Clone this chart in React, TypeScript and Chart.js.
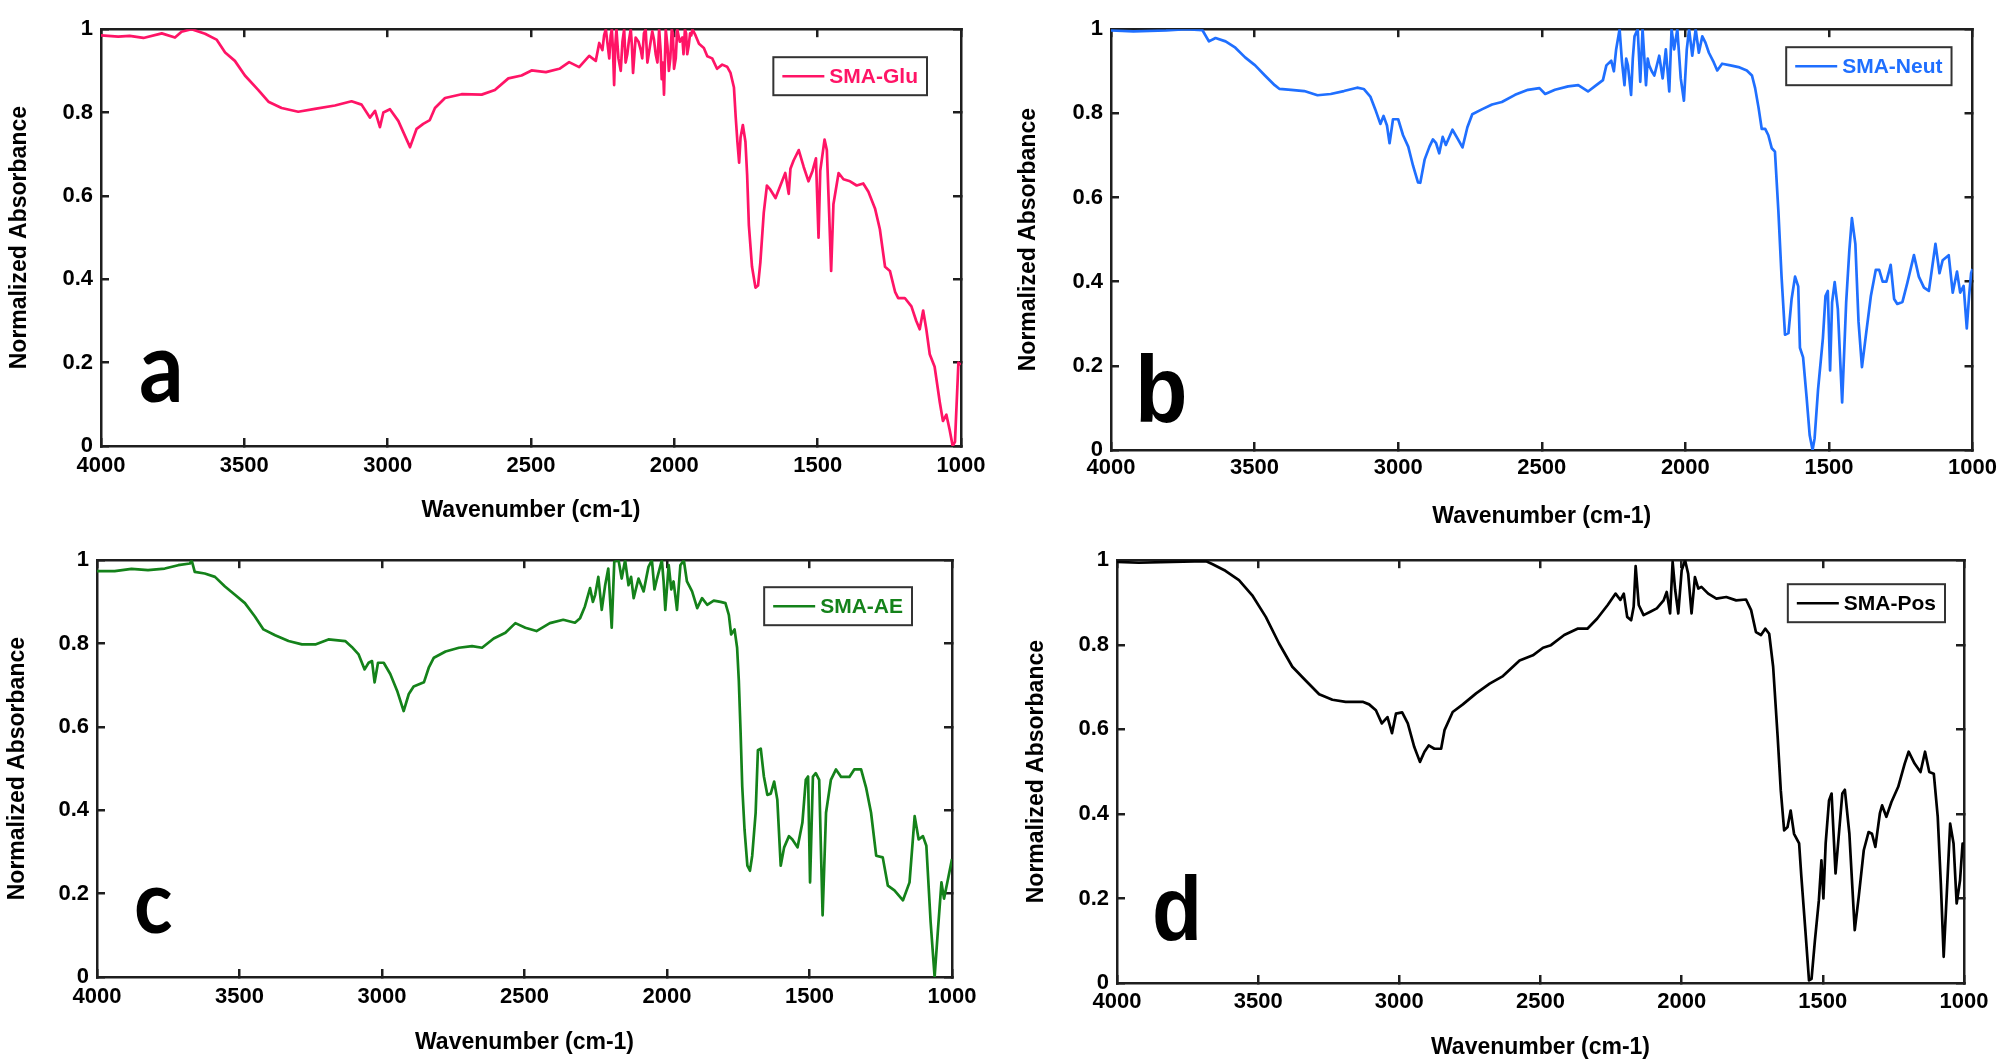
import React, { useEffect, useRef } from "react";
import { Chart, registerables } from "chart.js";

Chart.register(...registerables);

// ---------- data ----------
const X_TICKS = [4000, 3500, 3000, 2500, 2000, 1500, 1000];
const Y_TICKS = [0, 0.2, 0.4, 0.6, 0.8, 1];
const X_TITLE = "Wavenumber (cm-1)";
const Y_TITLE = "Normalized Absorbance";
const SERIES_NAMES = ["SMA-Glu", "SMA-Neut", "SMA-AE", "SMA-Pos"];
const PANEL_LETTERS = ["a", "b", "c", "d"];

// [wavenumber (cm-1), normalized absorbance]
const SMA_GLU: [number, number][] = [
  [4000, 0.985], [3940, 0.982], [3900, 0.984], [3852, 0.979], [3788, 0.99], [3742, 0.98], [3719, 0.994], [3684, 1.0],
  [3637, 0.989], [3597, 0.975], [3567, 0.944], [3533, 0.924], [3498, 0.889], [3451, 0.854], [3416, 0.826], [3370, 0.811],
  [3312, 0.802], [3254, 0.809], [3184, 0.817], [3126, 0.827], [3091, 0.819], [3062, 0.788], [3044, 0.804], [3027, 0.765],
  [3015, 0.8], [2992, 0.808], [2963, 0.78], [2922, 0.717], [2899, 0.761], [2876, 0.773], [2853, 0.782], [2835, 0.811],
  [2800, 0.835], [2742, 0.844], [2672, 0.843], [2626, 0.854], [2579, 0.882], [2533, 0.889], [2498, 0.901], [2448, 0.897],
  [2401, 0.905], [2367, 0.921], [2332, 0.909], [2297, 0.936], [2274, 0.924], [2262, 0.967], [2251, 0.95], [2245, 0.985],
  [2239, 1.0], [2233, 0.965], [2227, 0.93], [2222, 0.985], [2218, 1.0], [2214, 0.95], [2210, 0.866], [2206, 0.96],
  [2202, 1.0], [2195, 0.93], [2187, 0.9], [2181, 0.97], [2175, 1.0], [2170, 0.92], [2164, 0.94], [2158, 0.975],
  [2152, 1.0], [2148, 0.96], [2144, 0.895], [2135, 0.98], [2125, 0.97], [2117, 0.95], [2112, 0.93], [2106, 0.99],
  [2100, 1.0], [2094, 0.92], [2086, 0.955], [2077, 0.995], [2071, 0.975], [2065, 0.94], [2059, 0.92], [2053, 1.0],
  [2048, 0.95], [2044, 0.88], [2040, 0.92], [2036, 0.843], [2030, 1.0], [2024, 0.96], [2019, 0.9], [2014, 0.93],
  [2009, 1.0], [2005, 0.99], [2001, 0.905], [1995, 0.93], [1990, 1.0], [1981, 0.97], [1972, 0.98], [1968, 0.94],
  [1963, 1.0], [1959, 0.99], [1955, 0.94], [1950, 0.96], [1945, 0.99], [1941, 0.985], [1937, 1.0], [1926, 0.985],
  [1914, 0.965], [1897, 0.955], [1885, 0.935],
  [1868, 0.93], [1851, 0.905], [1833, 0.915], [1816, 0.91], [1804, 0.895], [1792, 0.86], [1786, 0.79], [1780, 0.73],
  [1774, 0.68], [1769, 0.74], [1761, 0.77], [1752, 0.73], [1746, 0.65], [1740, 0.53], [1729, 0.43], [1717, 0.38],
  [1708, 0.385], [1700, 0.44], [1688, 0.56], [1677, 0.625], [1665, 0.615], [1647, 0.595], [1630, 0.625], [1613, 0.655],
  [1601, 0.605], [1595, 0.665], [1584, 0.685], [1566, 0.71], [1549, 0.67], [1532, 0.635], [1518, 0.66], [1506, 0.69],
  [1497, 0.5], [1491, 0.66], [1476, 0.735], [1468, 0.71], [1460, 0.56], [1453, 0.42], [1445, 0.58], [1427, 0.655],
  [1410, 0.64], [1387, 0.635], [1364, 0.625], [1341, 0.63], [1323, 0.61], [1300, 0.57], [1283, 0.52], [1265, 0.43],
  [1248, 0.42], [1230, 0.37], [1219, 0.355], [1196, 0.355], [1173, 0.335], [1156, 0.3], [1144, 0.28], [1132, 0.325],
  [1121, 0.28], [1109, 0.22], [1092, 0.19], [1074, 0.105], [1063, 0.06], [1051, 0.075], [1040, 0.04], [1029, 0.0],
  [1021, 0.01], [1009, 0.2], [1001, 0.195],
];

const SMA_NEUT: [number, number][] = [
  [4000, 0.997], [3922, 0.995], [3808, 0.997], [3739, 1.0], [3682, 0.998], [3659, 0.971], [3636, 0.979], [3601, 0.971],
  [3567, 0.956], [3533, 0.933], [3498, 0.914], [3464, 0.89], [3430, 0.867], [3413, 0.858], [3373, 0.856], [3327, 0.853],
  [3281, 0.843], [3235, 0.846], [3189, 0.853], [3143, 0.861], [3120, 0.858], [3097, 0.84], [3080, 0.81], [3062, 0.775],
  [3051, 0.794], [3039, 0.771], [3030, 0.729], [3018, 0.786], [3000, 0.786], [2983, 0.748], [2965, 0.721], [2948, 0.675],
  [2931, 0.636], [2923, 0.635], [2908, 0.69], [2891, 0.721], [2879, 0.738], [2868, 0.729], [2857, 0.705], [2845, 0.744],
  [2834, 0.725], [2811, 0.761], [2793, 0.74], [2776, 0.719], [2759, 0.767], [2742, 0.798], [2707, 0.81], [2673, 0.821],
  [2639, 0.827], [2593, 0.844], [2548, 0.856], [2508, 0.86], [2488, 0.846], [2454, 0.856], [2408, 0.864], [2373, 0.867],
  [2339, 0.852], [2310, 0.867], [2287, 0.879], [2275, 0.914], [2258, 0.925], [2249, 0.9], [2241, 0.952], [2229, 1.0],
  [2221, 0.925], [2212, 0.867], [2206, 0.93], [2200, 0.914], [2189, 0.844], [2183, 0.93], [2177, 0.983], [2166, 1.0],
  [2157, 0.875], [2149, 1.0], [2137, 0.867], [2131, 0.93], [2126, 0.914], [2117, 0.9], [2108, 0.89], [2091, 0.937],
  [2079, 0.883], [2068, 0.952], [2056, 0.852], [2048, 1.0], [2039, 0.952], [2028, 1.0], [2016, 0.883], [2005, 0.83],
  [1995, 0.952], [1987, 1.0], [1976, 0.937], [1964, 1.0], [1953, 0.944],
  [1941, 0.983], [1930, 0.968], [1918, 0.944], [1901, 0.921], [1889, 0.902], [1872, 0.918], [1843, 0.914], [1815, 0.91],
  [1786, 0.902], [1768, 0.89], [1757, 0.86], [1745, 0.813], [1734, 0.763], [1722, 0.763], [1711, 0.748], [1699, 0.717],
  [1688, 0.709], [1676, 0.567], [1665, 0.412], [1653, 0.274], [1641, 0.278], [1630, 0.359], [1618, 0.412], [1607, 0.389],
  [1601, 0.243], [1590, 0.22], [1578, 0.127], [1567, 0.035], [1557, 0.0], [1550, 0.027], [1538, 0.143], [1521, 0.266],
  [1512, 0.366], [1504, 0.378], [1496, 0.189], [1489, 0.351], [1480, 0.399], [1469, 0.335], [1454, 0.113], [1440, 0.351],
  [1429, 0.474], [1420, 0.551], [1408, 0.49], [1397, 0.305], [1385, 0.197], [1371, 0.274], [1354, 0.366], [1337, 0.428],
  [1325, 0.428], [1313, 0.4], [1300, 0.4], [1285, 0.44], [1273, 0.359], [1262, 0.347], [1244, 0.352], [1227, 0.397],
  [1204, 0.463], [1187, 0.412], [1169, 0.386], [1152, 0.378], [1129, 0.49], [1115, 0.42], [1104, 0.451], [1083, 0.463],
  [1069, 0.374], [1054, 0.424], [1043, 0.374], [1031, 0.39], [1020, 0.289], [1012, 0.366], [1005, 0.42], [1000, 0.43],
];

const SMA_AE: [number, number][] = [
  [4000, 0.974], [3938, 0.974], [3879, 0.979], [3821, 0.976], [3762, 0.98], [3715, 0.988], [3674, 0.992], [3668, 1.0],
  [3657, 0.972], [3622, 0.968], [3586, 0.96], [3551, 0.937], [3516, 0.917], [3481, 0.897], [3446, 0.865], [3416, 0.834],
  [3375, 0.82], [3328, 0.806], [3281, 0.798], [3234, 0.798], [3188, 0.81], [3129, 0.806], [3106, 0.792], [3082, 0.774],
  [3061, 0.738], [3047, 0.754], [3035, 0.758], [3026, 0.707], [3014, 0.754], [2994, 0.754], [2971, 0.727], [2947, 0.687],
  [2924, 0.638], [2906, 0.679], [2889, 0.697], [2853, 0.707], [2836, 0.742], [2818, 0.766], [2777, 0.781], [2730, 0.79],
  [2684, 0.794], [2649, 0.79], [2608, 0.812], [2567, 0.826], [2532, 0.849], [2497, 0.838], [2458, 0.83], [2411, 0.849],
  [2364, 0.857], [2323, 0.85], [2305, 0.861], [2288, 0.889], [2270, 0.933], [2260, 0.9], [2252, 0.917], [2241, 0.96],
  [2229, 0.881], [2217, 0.94], [2206, 0.98], [2194, 0.838], [2185, 0.996], [2170, 1.0], [2159, 0.956], [2147, 1.0],
  [2135, 0.94], [2126, 0.96], [2117, 0.909], [2100, 0.956], [2082, 0.925], [2072, 0.96], [2065, 0.984], [2053, 1.0],
  [2044, 0.93], [2035, 0.956], [2018, 1.0], [2012, 0.95], [2006, 0.881], [1994, 0.988], [1985, 0.93], [1977, 0.949],
  [1965, 0.881], [1953, 0.988], [1941, 1.0], [1930, 0.949], [1912, 0.925], [1894, 0.885],
  [1877, 0.909], [1859, 0.893], [1836, 0.903], [1812, 0.9], [1795, 0.897], [1783, 0.869], [1775, 0.822], [1763, 0.834],
  [1754, 0.79], [1748, 0.711], [1742, 0.592], [1736, 0.457], [1728, 0.354], [1718, 0.267], [1709, 0.255], [1701, 0.291],
  [1689, 0.394], [1681, 0.544], [1671, 0.548], [1660, 0.481], [1648, 0.437], [1636, 0.44], [1624, 0.469], [1613, 0.426],
  [1601, 0.267], [1589, 0.311], [1572, 0.338], [1560, 0.33], [1542, 0.311], [1525, 0.37], [1513, 0.473], [1505, 0.481],
  [1498, 0.227], [1488, 0.481], [1478, 0.489], [1466, 0.473], [1454, 0.148], [1442, 0.394], [1425, 0.473], [1407, 0.498],
  [1389, 0.48], [1360, 0.48], [1343, 0.498], [1319, 0.498], [1301, 0.453], [1284, 0.394], [1266, 0.291], [1243, 0.287],
  [1225, 0.219], [1202, 0.208], [1172, 0.184], [1149, 0.227], [1131, 0.386], [1117, 0.33], [1102, 0.338], [1090, 0.315],
  [1075, 0.132], [1061, 0.0], [1049, 0.116], [1037, 0.227], [1028, 0.188], [1014, 0.235], [1000, 0.283],
];

const SMA_POS: [number, number][] = [
  [4000, 0.996], [3923, 0.994], [3805, 0.996], [3686, 0.998], [3663, 0.991], [3616, 0.975], [3568, 0.953], [3521, 0.917],
  [3473, 0.866], [3426, 0.803], [3379, 0.748], [3331, 0.715], [3284, 0.683], [3237, 0.67], [3190, 0.665], [3130, 0.665],
  [3107, 0.659], [3083, 0.645], [3062, 0.614], [3042, 0.629], [3026, 0.591], [3012, 0.637], [2990, 0.64], [2970, 0.614],
  [2947, 0.558], [2927, 0.523], [2911, 0.547], [2896, 0.562], [2876, 0.554], [2852, 0.554], [2840, 0.598], [2811, 0.641],
  [2775, 0.659], [2728, 0.685], [2680, 0.708], [2633, 0.726], [2574, 0.763], [2527, 0.775], [2491, 0.793], [2463, 0.799],
  [2416, 0.823], [2369, 0.838], [2334, 0.838], [2299, 0.862], [2262, 0.894], [2234, 0.921], [2217, 0.906], [2205, 0.921],
  [2193, 0.866], [2179, 0.858], [2170, 0.89], [2163, 0.986], [2152, 0.894], [2135, 0.87], [2111, 0.878], [2088, 0.886],
  [2064, 0.905], [2053, 0.925], [2041, 0.874], [2032, 0.996], [2023, 0.93], [2012, 0.874], [2000, 0.976], [1988, 1.0],
  [1977, 0.968], [1965, 0.874], [1953, 0.96], [1941, 0.933], [1930, 0.937], [1906, 0.921], [1877, 0.909], [1842, 0.913],
  [1807, 0.905], [1772, 0.907], [1754, 0.882], [1737, 0.83], [1719, 0.823], [1704, 0.838], [1690, 0.826], [1676, 0.748],
  [1660, 0.582], [1649, 0.456], [1637, 0.361], [1625, 0.369], [1614, 0.408], [1602, 0.353], [1584, 0.33], [1576, 0.251],
  [1561, 0.117], [1549, 0.006], [1540, 0.01], [1528, 0.101], [1514, 0.196], [1505, 0.29], [1498, 0.2], [1490, 0.33],
  [1478, 0.432], [1469, 0.448], [1455, 0.259], [1443, 0.353], [1431, 0.448], [1422, 0.457], [1406, 0.353], [1387, 0.125],
  [1373, 0.203], [1355, 0.314], [1338, 0.357], [1326, 0.353], [1314, 0.322], [1298, 0.401], [1290, 0.42], [1275, 0.393],
  [1257, 0.428], [1233, 0.464], [1210, 0.519], [1196, 0.547], [1175, 0.519], [1154, 0.499], [1138, 0.547], [1123, 0.499],
  [1107, 0.495], [1093, 0.393], [1082, 0.235], [1072, 0.062], [1061, 0.211], [1049, 0.377], [1037, 0.33], [1026, 0.188],
  [1014, 0.243], [1005, 0.33], [1000, 0.33],
];

// ---------- styling / layout ----------
const FONT = "'Liberation Sans', Arial, Helvetica, sans-serif";
const FRAME = "#1e1e1e";

type Panel = {
  name: string;
  letter: string;
  data: [number, number][];
  color: string;
  box: { left: number; top: number; width: number; height: number };
  area: { left: number; top: number; right: number; bottom: number };
  xTickPad: number;
  xTitlePad: number;
  yTitlePad: number;
  legendRight: number;
  legendTop: number;
  letterFont: string;
  letterSize: number;
  letterX: number;
  letterBase: number;
};

const PANELS: Panel[] = [
  {
    name: SERIES_NAMES[0], letter: PANEL_LETTERS[0], data: SMA_GLU, color: "#ff1466",
    box: { left: 0, top: 0, width: 1005, height: 531 },
    area: { left: 101, top: 18, right: 961, bottom: 446 },
    xTickPad: 15, xTitlePad: 6.6, yTitlePad: 6.3, legendRight: 34, legendTop: 28,
    letterFont: "Lato, 'Open Sans', sans-serif", letterSize: 88, letterX: 141, letterBase: 402,
  },
  {
    name: SERIES_NAMES[1], letter: PANEL_LETTERS[1], data: SMA_NEUT, color: "#1f6fff",
    box: { left: 1005, top: 0, width: 1005, height: 531 },
    area: { left: 106, top: 18, right: 977, bottom: 450 },
    xTickPad: 13, xTitlePad: 0.6, yTitlePad: 9.8, legendRight: 21, legendTop: 18,
    letterFont: FONT, letterSize: 86, letterX: 135, letterBase: 422,
  },
  {
    name: SERIES_NAMES[2], letter: PANEL_LETTERS[2], data: SMA_AE, color: "#14821a",
    box: { left: 0, top: 531, width: 1005, height: 532 },
    area: { left: 97, top: 26, right: 952, bottom: 446 },
    xTickPad: 15, xTitlePad: 6.6, yTitlePad: 3.8, legendRight: 40, legendTop: 27,
    letterFont: "Lato, 'Open Sans', sans-serif", letterSize: 80, letterX: 136, letterBase: 402,
  },
  {
    name: SERIES_NAMES[3], letter: PANEL_LETTERS[3], data: SMA_POS, color: "#000000",
    box: { left: 1005, top: 531, width: 1005, height: 532 },
    area: { left: 112, top: 29, right: 959, bottom: 452 },
    xTickPad: 14, xTitlePad: 1.6, yTitlePad: 17.8, legendRight: 19, legendTop: 24,
    letterFont: FONT, letterSize: 82, letterX: 150, letterBase: 409,
  },
];

function makeAxisCommon() {
  return {
    grid: { drawOnChartArea: false, drawTicks: true, tickLength: -8, lineWidth: 2.5, color: FRAME },
    border: { display: true, width: 2.5, color: FRAME },
  };
}

function PanelChart({ p }: { p: Panel }) {
  const ref = useRef<HTMLCanvasElement>(null);

  useEffect(() => {
    const canvas = ref.current;
    if (!canvas) return;

    const overlay = {
      id: "overlay" + p.letter,
      afterDraw(chart: any) {
        const ctx = chart.ctx as CanvasRenderingContext2D;
        const ca = chart.chartArea;
        ctx.save();
        // legend box
        const label = chart.data.datasets[0].label as string;
        ctx.font = `bold 21px ${FONT}`;
        const tw = ctx.measureText(label).width;
        const boxH = 38;
        const boxW = 9 + 42 + 5 + tw + 9;
        const boxRight = ca.right - p.legendRight;
        const boxLeft = boxRight - boxW;
        const boxTop = ca.top + p.legendTop;
        ctx.fillStyle = "#ffffff";
        ctx.fillRect(boxLeft, boxTop, boxW, boxH);
        ctx.lineWidth = 2;
        ctx.strokeStyle = "#333333";
        ctx.strokeRect(boxLeft, boxTop, boxW, boxH);
        const cy = boxTop + boxH / 2;
        ctx.beginPath();
        ctx.moveTo(boxLeft + 9, cy);
        ctx.lineTo(boxLeft + 51, cy);
        ctx.strokeStyle = p.color;
        ctx.lineWidth = 2.5;
        ctx.stroke();
        ctx.fillStyle = p.color;
        ctx.textAlign = "left";
        ctx.textBaseline = "middle";
        ctx.fillText(label, boxLeft + 56, cy + 1);

        // panel letter
        ctx.font = `bold ${p.letterSize}px ${p.letterFont}`;
        ctx.fillStyle = "#000000";
        ctx.textBaseline = "alphabetic";
        const m = ctx.measureText(p.letter);
        ctx.translate(p.letterX + m.actualBoundingBoxLeft, p.letterBase);
        ctx.scale(1, 1.1);
        ctx.fillText(p.letter, 0, 0);
        ctx.restore();
      },
    };

    const common = makeAxisCommon();
    const chart = new Chart(canvas, {
      type: "line",
      data: {
        datasets: [
          {
            label: p.name,
            data: p.data.map(([x, y]) => ({ x, y })),
            borderColor: p.color,
            backgroundColor: p.color,
            borderWidth: 2.7,
            pointRadius: 0,
            fill: false,
            tension: 0,
            borderJoinStyle: "round",
            xAxisID: "x",
            yAxisID: "y",
          },
        ],
      },
      options: {
        animation: false,
        responsive: false,
        devicePixelRatio: 1,
        events: [],
        layout: {
          autoPadding: false,
          padding: { left: 0, top: p.area.top, right: p.box.width - p.area.right, bottom: 0 },
        },
        plugins: { legend: { display: false }, tooltip: { enabled: false }, title: { display: false } },
        scales: {
          x: {
            type: "linear",
            position: "bottom",
            min: 1000,
            max: 4000,
            reverse: true,
            afterBuildTicks: (s: any) => { s.ticks = X_TICKS.map((v) => ({ value: v })); },
            afterFit: (s: any) => { s.height = p.box.height - p.area.bottom; },
            ticks: {
              autoSkip: false,
              maxRotation: 0,
              padding: p.xTickPad,
              color: "#000",
              font: { family: FONT, size: 22, weight: "bold" },
              callback: (v: any) => String(v),
            },
            title: {
              display: true,
              text: X_TITLE,
              color: "#000",
              font: { family: FONT, size: 23, weight: "bold" },
              padding: { top: 0, bottom: p.xTitlePad },
            },
            ...common,
          },
          x2: {
            type: "linear",
            position: "top",
            min: 1000,
            max: 4000,
            reverse: true,
            afterBuildTicks: (s: any) => { s.ticks = X_TICKS.map((v) => ({ value: v })); },
            afterFit: (s: any) => { s.height = 0; },
            ticks: { display: false },
            ...common,
          },
          y: {
            type: "linear",
            position: "left",
            min: 0,
            max: 1,
            afterBuildTicks: (s: any) => { s.ticks = Y_TICKS.map((v) => ({ value: v })); },
            afterFit: (s: any) => { s.width = p.area.left; },
            ticks: {
              padding: 16,
              color: "#000",
              font: { family: FONT, size: 22, weight: "bold" },
              callback: (v: any) => String(Number(Number(v).toFixed(1))),
            },
            title: {
              display: true,
              text: Y_TITLE,
              color: "#000",
              font: { family: FONT, size: 23, weight: "bold" },
              padding: { top: p.yTitlePad, bottom: 0 },
            },
            ...common,
          },
          y2: {
            type: "linear",
            position: "right",
            min: 0,
            max: 1,
            afterBuildTicks: (s: any) => { s.ticks = Y_TICKS.map((v) => ({ value: v })); },
            afterFit: (s: any) => { s.width = 0; },
            ticks: { display: false },
            ...common,
          },
        },
      } as any,
      plugins: [overlay],
    });
    return () => chart.destroy();
  }, [p]);

  return (
    <canvas
      ref={ref}
      width={p.box.width}
      height={p.box.height}
      style={{ position: "absolute", left: p.box.left, top: p.box.top, width: p.box.width, height: p.box.height }}
    />
  );
}

export default function App() {
  return (
    <div style={{ position: "absolute", left: 0, top: 0, width: 2010, height: 1063, background: "#ffffff", overflow: "hidden" }}>
      {PANELS.map((p) => (
        <PanelChart key={p.letter} p={p} />
      ))}
    </div>
  );
}
